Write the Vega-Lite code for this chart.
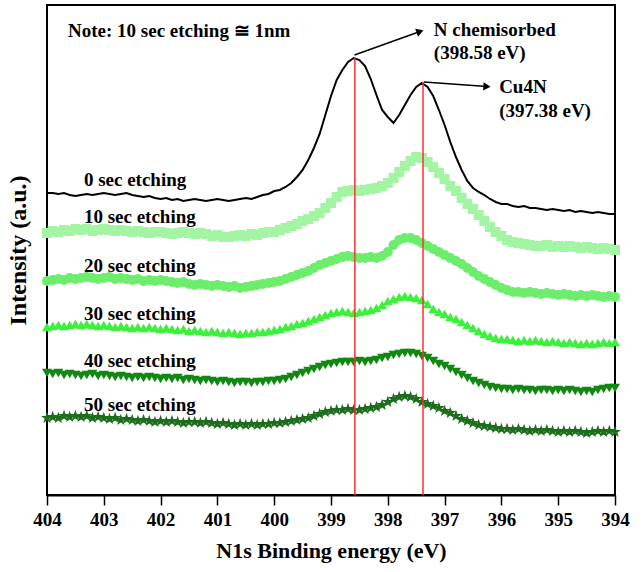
{
  "$schema": "https://vega.github.io/schema/vega-lite/v6.json",
  "width": 568,
  "height": 490,
  "autosize": {"type": "none"},
  "padding": {"left": 47, "top": 5, "right": 29, "bottom": 77},
  "background": "white",
  "config": {"view": {"stroke": "black", "strokeWidth": 2}, "font": "Liberation Serif"},
  "datasets": {
    "spectra": [
      {"E":404.0,"s0":307,"s10":267,"s20":219,"s30":173,"s40":127,"s50":82},
      {"E":403.9,"s0":307,"s10":269,"s20":220,"s30":174,"s40":126,"s50":83},
      {"E":403.8,"s0":306,"s10":268,"s20":221,"s30":175,"s40":127,"s50":82},
      {"E":403.7,"s0":307,"s10":270,"s20":220,"s30":174,"s40":125,"s50":84},
      {"E":403.6,"s0":305,"s10":269,"s20":222,"s30":175,"s40":126,"s50":83},
      {"E":403.5,"s0":304,"s10":271,"s20":221,"s30":176,"s40":125,"s50":84},
      {"E":403.4,"s0":305,"s10":270,"s20":222,"s30":175,"s40":124,"s50":83},
      {"E":403.3,"s0":306,"s10":271,"s20":223,"s30":176,"s40":125,"s50":84},
      {"E":403.2,"s0":305,"s10":269,"s20":222,"s30":175,"s40":126,"s50":82},
      {"E":403.1,"s0":306,"s10":270,"s20":221,"s30":174,"s40":124,"s50":83},
      {"E":403.0,"s0":307,"s10":271,"s20":222,"s30":175,"s40":125,"s50":82},
      {"E":402.9,"s0":306,"s10":270,"s20":223,"s30":174,"s40":124,"s50":81},
      {"E":402.8,"s0":305,"s10":269,"s20":221,"s30":173,"s40":123,"s50":82},
      {"E":402.7,"s0":306,"s10":270,"s20":222,"s30":174,"s40":124,"s50":80},
      {"E":402.6,"s0":307,"s10":269,"s20":221,"s30":173,"s40":123,"s50":81},
      {"E":402.5,"s0":305,"s10":268,"s20":220,"s30":172,"s40":122,"s50":80},
      {"E":402.4,"s0":304,"s10":269,"s20":221,"s30":173,"s40":123,"s50":79},
      {"E":402.3,"s0":303,"s10":268,"s20":219,"s30":172,"s40":122,"s50":80},
      {"E":402.2,"s0":304,"s10":267,"s20":220,"s30":173,"s40":123,"s50":79},
      {"E":402.1,"s0":302,"s10":268,"s20":219,"s30":172,"s40":122,"s50":78},
      {"E":402.0,"s0":301,"s10":268,"s20":220,"s30":171,"s40":121,"s50":79},
      {"E":401.9,"s0":302,"s10":267,"s20":219,"s30":172,"s40":122,"s50":78},
      {"E":401.8,"s0":300,"s10":266,"s20":218,"s30":171,"s40":121,"s50":79},
      {"E":401.7,"s0":301,"s10":267,"s20":217,"s30":170,"s40":122,"s50":78},
      {"E":401.6,"s0":299,"s10":268,"s20":218,"s30":171,"s40":120,"s50":77},
      {"E":401.5,"s0":300,"s10":267,"s20":216,"s30":169,"s40":121,"s50":78},
      {"E":401.4,"s0":301,"s10":266,"s20":215,"s30":170,"s40":120,"s50":78},
      {"E":401.3,"s0":300,"s10":267,"s20":216,"s30":169,"s40":119,"s50":77},
      {"E":401.2,"s0":299,"s10":266,"s20":215,"s30":168,"s40":120,"s50":78},
      {"E":401.1,"s0":300,"s10":264,"s20":214,"s30":169,"s40":119,"s50":77},
      {"E":401.0,"s0":301,"s10":265,"s20":215,"s30":168,"s40":118,"s50":76},
      {"E":400.9,"s0":300,"s10":263,"s20":214,"s30":167,"s40":119,"s50":77},
      {"E":400.8,"s0":299,"s10":263,"s20":213,"s30":168,"s40":118,"s50":76},
      {"E":400.7,"s0":300,"s10":264,"s20":214,"s30":167,"s40":117,"s50":75},
      {"E":400.6,"s0":301,"s10":265,"s20":212,"s30":166,"s40":118,"s50":76},
      {"E":400.5,"s0":302,"s10":264,"s20":213,"s30":167,"s40":118,"s50":75},
      {"E":400.4,"s0":301,"s10":266,"s20":214,"s30":167,"s40":117,"s50":76},
      {"E":400.3,"s0":303,"s10":265,"s20":215,"s30":168,"s40":118,"s50":75},
      {"E":400.2,"s0":305,"s10":267,"s20":216,"s30":168,"s40":118,"s50":76},
      {"E":400.1,"s0":306,"s10":268,"s20":217,"s30":169,"s40":119,"s50":76},
      {"E":400.0,"s0":309,"s10":268,"s20":218,"s30":170,"s40":119,"s50":77},
      {"E":399.9,"s0":310,"s10":270,"s20":219,"s30":171,"s40":120,"s50":77},
      {"E":399.8,"s0":313,"s10":272,"s20":221,"s30":173,"s40":121,"s50":78},
      {"E":399.7,"s0":317,"s10":274,"s20":223,"s30":174,"s40":123,"s50":79},
      {"E":399.6,"s0":323,"s10":276,"s20":225,"s30":176,"s40":125,"s50":80},
      {"E":399.5,"s0":330,"s10":279,"s20":227,"s30":177,"s40":127,"s50":81},
      {"E":399.4,"s0":340,"s10":281,"s20":229,"s30":179,"s40":129,"s50":82},
      {"E":399.3,"s0":352,"s10":284,"s20":232,"s30":181,"s40":131,"s50":84},
      {"E":399.2,"s0":366,"s10":287,"s20":235,"s30":183,"s40":133,"s50":86},
      {"E":399.1,"s0":385,"s10":292,"s20":237,"s30":185,"s40":135,"s50":88},
      {"E":399.0,"s0":404,"s10":297,"s20":239,"s30":187,"s40":136,"s50":89},
      {"E":398.9,"s0":420,"s10":303,"s20":241,"s30":188,"s40":137,"s50":90},
      {"E":398.8,"s0":430,"s10":308,"s20":243,"s30":189,"s40":138,"s50":90},
      {"E":398.7,"s0":438,"s10":309,"s20":244,"s30":188,"s40":138,"s50":91},
      {"E":398.6,"s0":442,"s10":310,"s20":243,"s30":187,"s40":138,"s50":90},
      {"E":398.5,"s0":440,"s10":309,"s20":242,"s30":188,"s40":139,"s50":90},
      {"E":398.4,"s0":434,"s10":310,"s20":242,"s30":189,"s40":138,"s50":91},
      {"E":398.3,"s0":421,"s10":311,"s20":243,"s30":190,"s40":139,"s50":92},
      {"E":398.2,"s0":405,"s10":312,"s20":242,"s30":192,"s40":140,"s50":93},
      {"E":398.1,"s0":390,"s10":314,"s20":244,"s30":195,"s40":142,"s50":95},
      {"E":398.0,"s0":383,"s10":317,"s20":248,"s30":199,"s40":143,"s50":98},
      {"E":397.9,"s0":377,"s10":322,"s20":255,"s30":201,"s40":145,"s50":101},
      {"E":397.8,"s0":385,"s10":328,"s20":260,"s30":203,"s40":146,"s50":103},
      {"E":397.7,"s0":395,"s10":334,"s20":262,"s30":204,"s40":147,"s50":104},
      {"E":397.6,"s0":405,"s10":339,"s20":262,"s30":203,"s40":147,"s50":103},
      {"E":397.5,"s0":413,"s10":343,"s20":260,"s30":202,"s40":146,"s50":101},
      {"E":397.4,"s0":417,"s10":342,"s20":257,"s30":200,"s40":144,"s50":98},
      {"E":397.3,"s0":413,"s10":338,"s20":254,"s30":196,"s40":142,"s50":96},
      {"E":397.2,"s0":404,"s10":333,"s20":251,"s30":191,"s40":139,"s50":94},
      {"E":397.1,"s0":390,"s10":327,"s20":248,"s30":188,"s40":136,"s50":92},
      {"E":397.0,"s0":375,"s10":321,"s20":245,"s30":186,"s40":134,"s50":89},
      {"E":396.9,"s0":358,"s10":314,"s20":242,"s30":183,"s40":131,"s50":87},
      {"E":396.8,"s0":343,"s10":309,"s20":239,"s30":181,"s40":128,"s50":84},
      {"E":396.7,"s0":330,"s10":302,"s20":236,"s30":178,"s40":125,"s50":81},
      {"E":396.6,"s0":319,"s10":296,"s20":232,"s30":175,"s40":122,"s50":79},
      {"E":396.5,"s0":312,"s10":291,"s20":228,"s30":172,"s40":119,"s50":77},
      {"E":396.4,"s0":308,"s10":285,"s20":224,"s30":169,"s40":117,"s50":75},
      {"E":396.3,"s0":305,"s10":279,"s20":221,"s30":166,"s40":115,"s50":74},
      {"E":396.2,"s0":301,"s10":273,"s20":218,"s30":164,"s40":113,"s50":73},
      {"E":396.1,"s0":298,"s10":268,"s20":215,"s30":162,"s40":112,"s50":72},
      {"E":396.0,"s0":296,"s10":264,"s20":212,"s30":161,"s40":111,"s50":71},
      {"E":395.9,"s0":296,"s10":260,"s20":210,"s30":161,"s40":111,"s50":71},
      {"E":395.8,"s0":294,"s10":258,"s20":208,"s30":160,"s40":110,"s50":70},
      {"E":395.7,"s0":293,"s10":257,"s20":208,"s30":159,"s40":111,"s50":71},
      {"E":395.6,"s0":294,"s10":256,"s20":207,"s30":160,"s40":110,"s50":70},
      {"E":395.5,"s0":292,"s10":255,"s20":208,"s30":159,"s40":110,"s50":69},
      {"E":395.4,"s0":292,"s10":254,"s20":207,"s30":160,"s40":109,"s50":70},
      {"E":395.3,"s0":291,"s10":254,"s20":206,"s30":159,"s40":110,"s50":69},
      {"E":395.2,"s0":290,"s10":255,"s20":207,"s30":158,"s40":110,"s50":70},
      {"E":395.1,"s0":291,"s10":253,"s20":206,"s30":159,"s40":109,"s50":69},
      {"E":395.0,"s0":290,"s10":254,"s20":205,"s30":158,"s40":110,"s50":68},
      {"E":394.9,"s0":289,"s10":253,"s20":206,"s30":157,"s40":109,"s50":69},
      {"E":394.8,"s0":290,"s10":254,"s20":205,"s30":158,"s40":110,"s50":68},
      {"E":394.7,"s0":288,"s10":253,"s20":204,"s30":157,"s40":109,"s50":69},
      {"E":394.6,"s0":289,"s10":252,"s20":205,"s30":156,"s40":108,"s50":68},
      {"E":394.5,"s0":288,"s10":253,"s20":204,"s30":157,"s40":109,"s50":67},
      {"E":394.4,"s0":287,"s10":252,"s20":205,"s30":156,"s40":108,"s50":68},
      {"E":394.3,"s0":288,"s10":251,"s20":204,"s30":157,"s40":110,"s50":69},
      {"E":394.2,"s0":287,"s10":252,"s20":203,"s30":158,"s40":111,"s50":68},
      {"E":394.1,"s0":286,"s10":251,"s20":204,"s30":157,"s40":112,"s50":69},
      {"E":394.0,"s0":286,"s10":250,"s20":203,"s30":158,"s40":112,"s50":68}
    ],
    "notes": [
      {"E":403.35,"I":314,"text":"0 sec etching"},
      {"E":403.35,"I":277,"text":"10 sec etching"},
      {"E":403.35,"I":228,"text":"20 sec etching"},
      {"E":403.35,"I":180,"text":"30 sec etching"},
      {"E":403.35,"I":133,"text":"40 sec etching"},
      {"E":403.35,"I":89,"text":"50 sec etching"},
      {"E":403.63,"I":463,"text":"Note: 10 sec etching ≅ 1nm"},
      {"E":397.19,"I":464,"text":"N chemisorbed"},
      {"E":397.19,"I":441,"text":"(398.58 eV)"},
      {"E":396.04,"I":407,"text":"Cu4N"},
      {"E":396.04,"I":383,"text":"(397.38 eV)"}
    ],
    "refs": [
      {"E":398.58,"lo":5,"hi":442},
      {"E":397.38,"lo":5,"hi":418}
    ],
    "arrows": [
      {"id":"a","x0":398.586,"y0":445,"x1":397.433,"y1":468.5},
      {"id":"b","x0":397.363,"y0":418,"x1":396.254,"y1":413.4}
    ]
  },
  "layer": [
    {
      "data": {"name": "spectra"},
      "transform": [{"fold": ["s10","s20","s30","s40","s50"], "as": ["series","intensity"]}],
      "mark": {"type": "point", "filled": true, "opacity": 1, "size": 100},
      "encoding": {
        "x": {"field": "E", "type": "quantitative", "title": "N1s Binding energy (eV)",
          "scale": {"domain": [394, 404], "reverse": true, "nice": false, "zero": false},
          "axis": {
            "values": [404,403.5,403,402.5,402,401.5,401,400.5,400,399.5,399,398.5,398,397.5,397,396.5,396,395.5,395,394.5,394],
            "labelExpr": "datum.value % 1 === 0 ? format(datum.value, 'd') : ''",
            "titleFont": "Liberation Serif", "titleFontSize": 22, "titleFontWeight": "bold", "titleColor": "black", "titlePadding": 11,
            "labelFont": "Liberation Serif", "labelFontSize": 19, "labelFontWeight": "bold", "labelColor": "black", "labelPadding": 5,
            "labelFlush": false, "labelOverlap": false,
            "tickColor": "black", "tickWidth": 1.5,
            "tickSize": {"condition": {"test": "datum.value % 1 === 0", "value": 10}, "value": 5},
            "domainColor": "black", "domainWidth": 2, "grid": false
          }},
        "y": {"field": "intensity", "type": "quantitative", "title": "Intensity (a.u.)",
          "scale": {"domain": [5, 495], "nice": false, "zero": false},
          "axis": {"labels": false, "ticks": false, "domain": false, "grid": false,
            "titleFont": "Liberation Serif", "titleFontSize": 24, "titleFontWeight": "bold", "titleColor": "black", "titlePadding": 17}},
        "color": {"field": "series", "type": "nominal", "legend": null,
          "scale": {"domain": ["s10","s20","s30","s40","s50"], "range": ["#a3f5a3","#6ced6c","#3cf03c","#118811","#1c6e1c"]}},
        "shape": {"field": "series", "type": "nominal", "legend": null,
          "scale": {"domain": ["s10","s20","s30","s40","s50"], "range": ["square","circle","triangle-up","triangle-down","M0,-1.25L0.294,-0.405L1.189,-0.386L0.475,0.155L0.735,1.011L0,0.5L-0.735,1.011L-0.475,0.155L-1.189,-0.386L-0.294,-0.405Z"]}}
      }
    },
    {
      "data": {"name": "spectra"},
      "mark": {"type": "line", "color": "black", "strokeWidth": 2},
      "encoding": {
        "x": {"field": "E", "type": "quantitative", "title": "N1s Binding energy (eV)"},
        "y": {"field": "s0", "type": "quantitative", "title": "Intensity (a.u.)"}
      }
    },
    {
      "data": {"name": "refs"},
      "mark": {"type": "rule", "color": "#ff3030", "strokeWidth": 1.5},
      "encoding": {
        "x": {"field": "E", "type": "quantitative", "title": "N1s Binding energy (eV)"},
        "y": {"field": "lo", "type": "quantitative", "title": "Intensity (a.u.)"},
        "y2": {"field": "hi"}
      }
    },
    {
      "data": {"name": "arrows"},
      "mark": {"type": "rule", "color": "black", "strokeWidth": 1.5},
      "encoding": {
        "x": {"field": "x0", "type": "quantitative", "title": "N1s Binding energy (eV)"},
        "x2": {"field": "x1"},
        "y": {"field": "y0", "type": "quantitative", "title": "Intensity (a.u.)"},
        "y2": {"field": "y1"}
      }
    },
    {
      "data": {"name": "arrows"},
      "transform": [{"filter": "datum.id == 'a'"}],
      "mark": {"type": "point", "shape": "triangle-right", "filled": true, "color": "black", "opacity": 1, "size": 70, "angle": -20},
      "encoding": {
        "x": {"field": "x1", "type": "quantitative", "title": "N1s Binding energy (eV)"},
        "y": {"field": "y1", "type": "quantitative", "title": "Intensity (a.u.)"}
      }
    },
    {
      "data": {"name": "arrows"},
      "transform": [{"filter": "datum.id == 'b'"}],
      "mark": {"type": "point", "shape": "triangle-right", "filled": true, "color": "black", "opacity": 1, "size": 70, "angle": 4},
      "encoding": {
        "x": {"field": "x1", "type": "quantitative", "title": "N1s Binding energy (eV)"},
        "y": {"field": "y1", "type": "quantitative", "title": "Intensity (a.u.)"}
      }
    },
    {
      "data": {"name": "notes"},
      "mark": {"type": "text", "align": "left", "baseline": "alphabetic", "font": "Liberation Serif", "fontSize": 19, "fontWeight": "bold", "color": "black"},
      "encoding": {
        "x": {"field": "E", "type": "quantitative", "title": "N1s Binding energy (eV)"},
        "y": {"field": "I", "type": "quantitative", "title": "Intensity (a.u.)"},
        "text": {"field": "text"}
      }
    }
  ]
}
